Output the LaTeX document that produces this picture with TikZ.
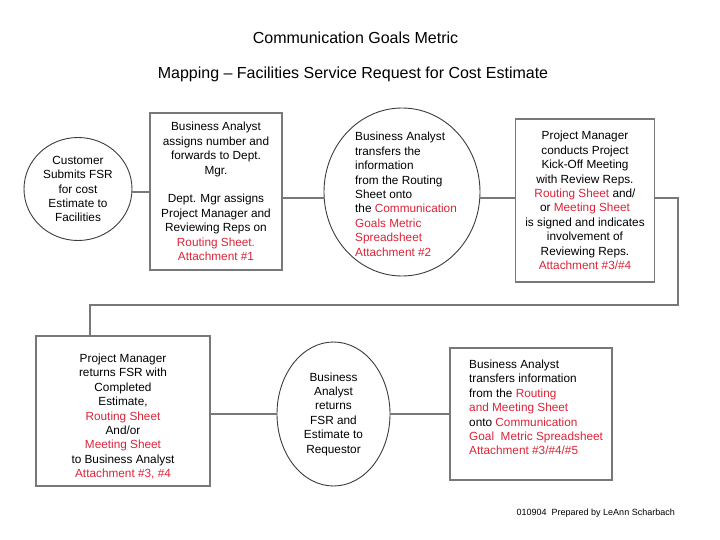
\documentclass[tikz,border=0pt]{standalone}
\usepackage{fontspec}
\setmainfont{Liberation Sans}
\usetikzlibrary{shapes.geometric}
\definecolor{myred}{RGB}{218,36,56}
\definecolor{boxgray}{RGB}{120,120,120}
\definecolor{ringgray}{RGB}{60,60,60}
\newcommand{\rd}[1]{\textcolor{myred}{#1}}
\tikzset{
  txt/.style={font=\fontsize{11.8}{14.4}\selectfont, text=black},
  boxnode/.style={txt, draw=boxgray, line width=1.6pt, rectangle, align=center, inner sep=0pt},
  ringnode/.style={txt, draw=ringgray, line width=0.9pt, ellipse, align=center, inner sep=0pt},
  link/.style={draw=boxgray, line width=1.6pt},
  ttl/.style={font=\fontsize{16}{19}\selectfont},
}
\begin{document}
\begin{tikzpicture}[x=1pt,y=-1pt]
\useasboundingbox (0,0) rectangle (720,540);

% titles
\node[ttl] (t1) at (355.5,38) {Communication Goals Metric};
\node[ttl] (t2) at (353,74) {Mapping -- Facilities Service Request for Cost Estimate};

% top row
\node[ringnode, minimum width=108, minimum height=103] (c1) at (78,189)
  {Customer\\Submits FSR\\for cost\\Estimate to\\Facilities};
\node[boxnode, minimum width=132, minimum height=157] (b1) at (216,191.5)
  {Business Analyst\\assigns number and\\forwards to Dept.\\Mgr.\\[14.4pt]Dept. Mgr assigns\\Project Manager and\\Reviewing Reps on\\\rd{Routing Sheet.}\\\rd{Attachment \#1}};
\node[ringnode, minimum width=156, minimum height=168] (c2) at (402,192) {};
\node[txt, align=left, anchor=west, inner sep=0pt] (c2t) at (355,194.2)
  {Business Analyst\\transfers the\\information\\from the Routing\\Sheet onto\\the \rd{Communication}\\\rd{Goals Metric}\\\rd{Spreadsheet}\\\rd{Attachment \#2}};
\node[boxnode, minimum width=139, minimum height=163] (b2) at (585,200.5)
  {Project Manager\\conducts Project\\Kick-Off Meeting\\with Review Reps.\\\rd{Routing Sheet} and/\\or \rd{Meeting Sheet}\\is signed and indicates\\involvement of\\Reviewing Reps.\\\rd{Attachment \#3/\#4}};

% bottom row
\node[boxnode, minimum width=174, minimum height=150] (b3) at (123,411) {};
\node[txt, align=center, inner sep=0pt] (b3t) at (123,416.5)
  {Project Manager\\returns FSR with\\Completed\\Estimate,\\\rd{Routing Sheet}\\And/or\\\rd{Meeting Sheet}\\to Business Analyst\\\rd{Attachment \#3, \#4}};
\node[ringnode, minimum width=113, minimum height=144] (c3) at (333.5,414)
  {Business\\Analyst\\returns\\FSR and\\Estimate to\\Requestor};
\node[boxnode, minimum width=162, minimum height=132] (b4) at (531,414) {};
\node[txt, align=left, anchor=west, inner sep=0pt] (b4t) at (469,407.5)
  {Business Analyst\\transfers information\\from the \rd{Routing}\\\rd{and Meeting Sheet}\\onto \rd{Communication}\\\rd{Goal\ \ Metric Spreadsheet}\\\rd{Attachment \#3/\#4/\#5}};

% footer
\node[font=\fontsize{9}{11}\selectfont, anchor=east, inner sep=0pt] (ft) at (675,513)
  {010904\ \ Prepared by LeAnn Scharbach};

% connectors
\coordinate (r1) at (0,198);
\coordinate (k1) at (678,305);
\coordinate (k2) at (90,305);
\draw[link] (c1.east |- 0,192) -- (b1.west |- 0,192);
\draw[link] (b1.east |- r1) -- (c2.west |- r1);
\draw[link] (c2.east |- r1) -- (b2.west |- r1);
\draw[link] (b2.east |- r1) -| (k1) -- (k2) -- (k2 |- b3.north);
\draw[link] (b3.east |- c3.west) -- (c3.west);
\draw[link] (c3.east) -- (c3.east -| b4.west);
\end{tikzpicture}
\end{document}
